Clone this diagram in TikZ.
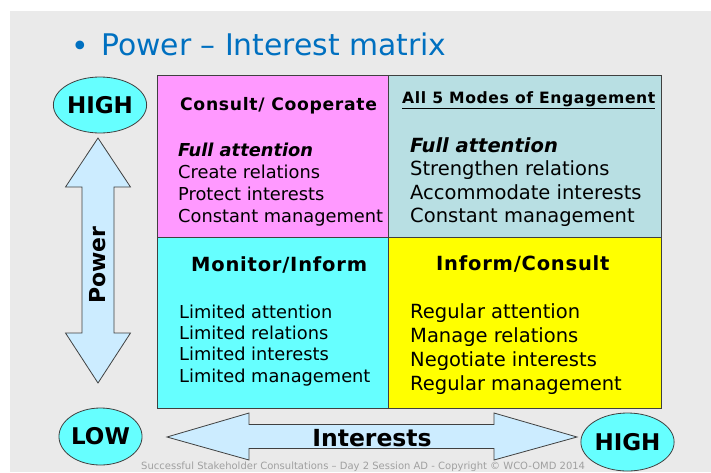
\documentclass[tikz,border=0pt]{standalone}
\usepackage{fontspec}
\setmainfont{DejaVu Sans}
\newfontfamily\hdfont[LetterSpace=4]{DejaVu Sans}
\definecolor{bggray}{HTML}{EAEAEA}
\definecolor{titleblue}{HTML}{0070C0}
\definecolor{cpink}{HTML}{FF99FF}
\definecolor{cteal}{HTML}{B8DFE3}
\definecolor{ccyan}{HTML}{66FFFF}
\definecolor{cyellow}{HTML}{FFFF00}
\definecolor{arrowblue}{HTML}{CCECFF}
\definecolor{edge}{HTML}{404040}
\definecolor{footgray}{HTML}{A0A0A0}
\newcommand{\ls}{\rule{0pt}{16pt}}
\tikzset{
  cell/.style={draw=edge, line width=1pt, anchor=north west, inner sep=0pt},
  head/.style={anchor=base west, inner sep=0pt, font=\hdfont\bfseries\fontsize{19.5}{22}\selectfont},
  listsmall/.style={anchor=north west, inner sep=0pt, align=left, font=\fontsize{17.8}{22}\selectfont},
  listbig/.style={anchor=north west, inner sep=0pt, align=left, font=\fontsize{19.5}{23.4}\selectfont},
  oval/.style={ellipse, draw=edge, line width=0.8pt, fill=ccyan, inner sep=0pt, font=\bfseries\fontsize{23}{26}\selectfont},
  bigarrow/.style={draw=edge, line width=0.8pt, fill=arrowblue, line join=miter},
  bigbold/.style={inner sep=0pt, font=\bfseries\fontsize{22}{26}\selectfont}
}
\usetikzlibrary{shapes.geometric}
\begin{document}
\begin{tikzpicture}[x=1pt,y=-1pt]
\useasboundingbox (0,0) rectangle (711,472);
\fill[bggray] (10,11) rectangle (711,472);

% title
\node[anchor=base, inner sep=0pt, text=titleblue, font=\fontsize{29.8}{32}\selectfont] (bullet) at (80,56) {•};
\node[anchor=base west, inner sep=0pt, text=titleblue, font=\fontsize{29.8}{32}\selectfont] (title) at (101,55.5) {Power – Interest matrix};

% cells
\node[cell, fill=cpink,  minimum width=231pt, minimum height=162pt] (tl) at (157,75) {};
\node[cell, fill=cteal,  minimum width=273pt, minimum height=162pt] (tr) at (388,75) {};
\node[cell, fill=ccyan,  minimum width=231pt, minimum height=171pt] (bl) at (157,237) {};
\node[cell, fill=cyellow,minimum width=273pt, minimum height=171pt] (br) at (388,237) {};

% top-left
\node[head, font=\hdfont\bfseries\fontsize{17.2}{20}\selectfont] (tlh) at (180,110) {Consult/ Cooperate};
\node[listsmall] (tll) at (178,140) {\ls{\bfseries\itshape Full attention}\\Create relations\\Protect interests\\Constant management};

% top-right
\node[head, font=\hdfont\bfseries\fontsize{15.6}{18}\selectfont] (trh) at (402,103) {\underline{All 5 Modes of Engagement}};
\node[listbig] (trl) at (410,136) {\ls{\bfseries\itshape Full attention}\\Strengthen relations\\Accommodate interests\\Constant management};

% bottom-left
\node[head] (blh) at (191,271) {Monitor/Inform};
\node[listsmall, font=\fontsize{17.8}{21.3}\selectfont] (bll) at (179,302) {\ls Limited attention\\Limited relations\\Limited interests\\Limited management};

% bottom-right
\node[head] (brh) at (436,270) {Inform/Consult};
\node[listbig, font=\fontsize{19.5}{24}\selectfont] (brl) at (410,302) {\ls Regular attention\\Manage relations\\Negotiate interests\\Regular management};

% side ellipses
\node[oval, minimum width=82pt, minimum height=56pt] (hightop) at (100,105) {HIGH};
\node[oval, minimum width=81pt, minimum height=57pt] (low) at (100.5,436.5) {LOW};
\node[oval, minimum width=81pt, minimum height=58pt] (highright) at (627.5,442) {HIGH};

% power arrow
\draw[bigarrow] (98,138) -- (130.5,187) -- (114,187) -- (114,333) -- (130.5,333)
  -- (98,383) -- (65.5,333) -- (82,333) -- (82,187) -- (65.5,187) -- cycle;
\node[bigbold, rotate=90] (power) at (98,265) {Power};

% interests arrow
\draw[bigarrow] (167,437) -- (249,413) -- (249,424.5) -- (494,424.5) -- (494,413)
  -- (577,437) -- (494,460) -- (494,448.5) -- (249,448.5) -- (249,460) -- cycle;
\node[bigbold, anchor=base, font=\bfseries\fontsize{23.5}{26}\selectfont] (interests) at (372,446) {Interests};

% footer
\node[anchor=base west, inner sep=0pt, text=footgray, font=\fontsize{10}{12}\selectfont] (foot) at (141,469) {Successful Stakeholder Consultations – Day 2 Session AD - Copyright © WCO-OMD 2014};
\end{tikzpicture}
\end{document}
